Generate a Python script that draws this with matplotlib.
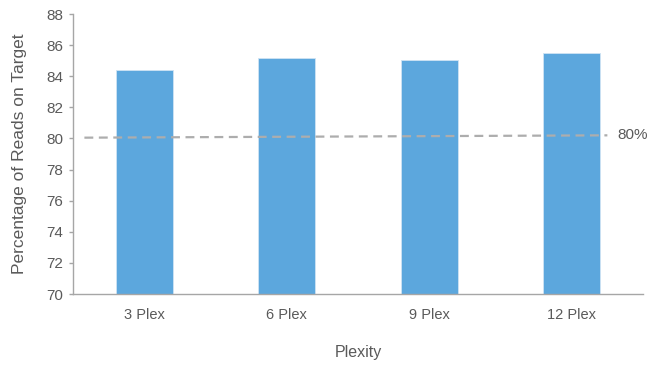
import matplotlib.pyplot as plt
import numpy as np

categories = ['3 Plex', '6 Plex', '9 Plex', '12 Plex']
reads_on_target = [84.42, 85.15, 85.04, 85.47]
threshold_x = [-0.42, 3.25]
threshold_y = [80.05, 80.2]
threshold_label = '80%'

plt.rcParams['font.family'] = ['Liberation Sans', 'DejaVu Sans']
txt = '#5a5a5a'
axc = '#a6a6a6'

fig = plt.figure(figsize=(6.49, 3.65), dpi=100)
ax = fig.add_axes([73 / 649, 1 - 294 / 365, 570 / 649, 280 / 365])

x = np.arange(len(categories))
ax.bar(x, reads_on_target, width=0.4, color='#5ca7dd', edgecolor='#cfe3f3', linewidth=0.6, zorder=2)
ax.plot(threshold_x, threshold_y, color='#adadad', linestyle=(0, (4, 2.5)), linewidth=1.6, zorder=3)
ax.text(threshold_x[1] + 0.07, threshold_y[1], threshold_label, color=txt, fontsize=11,
        va='center', ha='left')

ax.set_xlim(-0.5, 3.5)
ax.set_ylim(70, 88)
ax.set_yticks(range(70, 89, 2))
ax.set_xticks(x)
ax.set_xticklabels(categories)

for s in ['top', 'right']:
    ax.spines[s].set_visible(False)
for s in ['left', 'bottom']:
    ax.spines[s].set_color(axc)
    ax.spines[s].set_linewidth(1.0)
ax.tick_params(axis='y', colors=axc, labelcolor=txt, labelsize=11, length=3, width=1.0, pad=4)
ax.tick_params(axis='x', length=0, labelcolor=txt, labelsize=10.5, pad=10)

ax.set_ylabel('Percentage of Reads on Target', color=txt, fontsize=12.5, labelpad=14)
ax.set_xlabel('Plexity', color=txt, fontsize=11.5, labelpad=17)

fig.savefig('out.png', dpi=100)
